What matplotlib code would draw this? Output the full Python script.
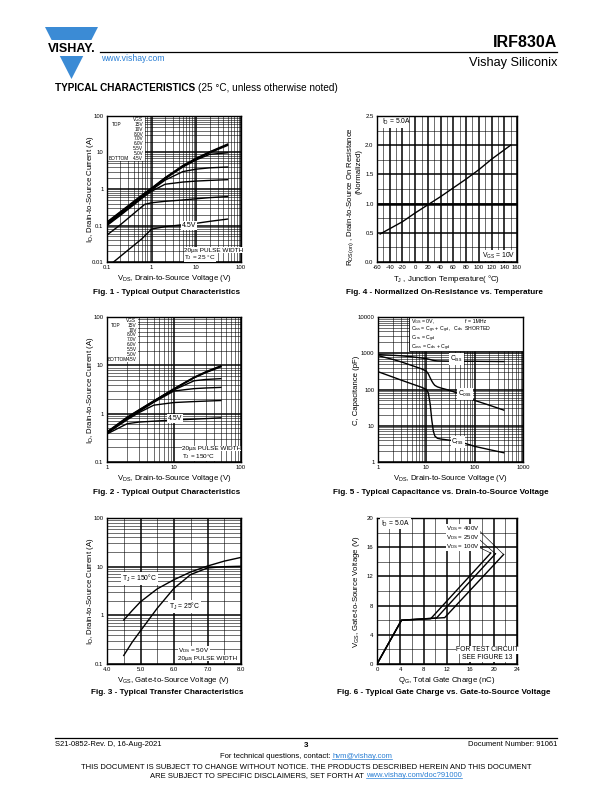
import numpy as np
import matplotlib
matplotlib.use('Agg')
import matplotlib.pyplot as plt
from matplotlib.ticker import FixedLocator, NullFormatter
from matplotlib.patches import Polygon, Rectangle

plt.rcParams['font.family'] = ['Liberation Sans', 'DejaVu Sans']
plt.rcParams['mathtext.fontset'] = 'custom'
plt.rcParams['mathtext.rm'] = 'Liberation Sans'
plt.rcParams['mathtext.it'] = 'Liberation Sans:italic'
plt.rcParams['mathtext.default'] = 'regular'

# ---------------- data ----------------
# Fig 1 - output characteristics, Tj = 25 C
vds1 = [0.1, 0.2, 0.5, 0.7, 1, 2, 5, 10, 20, 50]
id1_15v = [0.125, 0.24, 0.57, 0.78, 1.07, 2.05, 4.4, 7.0, 10.5, 17.0]
id1_10v = [0.12, 0.23, 0.55, 0.76, 1.04, 2.0, 4.3, 6.8, 10.2, 16.3]
id1_8v = [0.115, 0.22, 0.53, 0.74, 1.01, 1.95, 4.2, 6.6, 9.8, 15.6]
id1_7v = [0.11, 0.21, 0.51, 0.71, 0.98, 1.9, 4.0, 6.3, 8.9, 9.8]
id1_6v = [0.105, 0.2, 0.49, 0.68, 0.94, 1.75, 3.0, 3.5, 3.8, 4.0]
id1_55v = [0.1, 0.19, 0.46, 0.64, 0.87, 1.35, 1.55, 1.65, 1.72, 1.8]
id1_5v = [0.055, 0.105, 0.27, 0.38, 0.42, 0.46, 0.5, 0.54, 0.58, 0.62]
vds1_45 = [0.14, 0.3, 0.6, 1, 2, 5, 10, 20, 50]
id1_45v = [0.01, 0.0215, 0.043, 0.08, 0.093, 0.105, 0.115, 0.13, 0.15]

# Fig 2 - output characteristics, Tj = 150 C
vds2 = [1, 2, 3, 5, 10, 20, 30, 50]
id2_15v = [0.42, 0.85, 1.2, 1.85, 3.3, 5.7, 7.4, 9.8]
id2_10v = [0.41, 0.83, 1.18, 1.82, 3.25, 5.6, 7.2, 9.5]
id2_8v = [0.41, 0.81, 1.16, 1.8, 3.2, 5.5, 7.1, 9.3]
id2_7v = [0.4, 0.8, 1.14, 1.78, 3.1, 4.8, 5.1, 5.3]
id2_6v = [0.4, 0.78, 1.1, 1.72, 2.95, 3.3, 3.4, 3.5]
id2_55v = [0.39, 0.75, 1.05, 1.5, 1.7, 1.78, 1.82, 1.87]
id2_45v = [0.38, 0.62, 0.67, 0.7, 0.74, 0.77, 0.79, 0.82]

# Fig 3 - transfer characteristics
vgs3 = [4.5, 4.75, 5.0, 5.5, 6.0, 6.5, 7.0, 7.5, 8.0]
id3_150c = [0.8, 1.25, 1.9, 3.5, 5.4, 7.8, 10.3, 13.0, 15.5]
id3_25c = [0.15, 0.28, 0.48, 1.4, 3.6, 6.9, 9.4, 10.0, 10.2]

# Fig 4 - normalized on-resistance
tj4 = [-55, -40, -20, 0, 20, 40, 60, 80, 100, 120, 150]
rds4 = [0.48, 0.57, 0.69, 0.84, 0.98, 1.12, 1.27, 1.42, 1.58, 1.76, 2.0]

# Fig 5 - capacitance
vds5 = [1, 2, 3, 5, 8, 10, 11, 12, 13, 14, 15, 17, 20, 30, 50, 100, 200, 400]
ciss = [920, 880, 850, 800, 740, 710, 690, 670, 650, 635, 625, 615, 610, 605, 600, 600, 595, 590]
coss = [860, 680, 580, 460, 370, 320, 270, 210, 170, 145, 130, 118, 110, 95, 75, 50, 37, 27]
crss = [310, 222, 182, 143, 115, 100, 80, 40, 14, 7, 5.2, 4.5, 4.3, 4.0, 3.6, 2.7, 2.2, 1.8]

# Fig 6 - gate charge
qg_100 = [0, 4.2, 9.2, 19.5]
vg_100 = [0, 6.0, 6.2, 15.2]
qg_250 = [0, 4.2, 10.2, 20.3]
vg_250 = [0, 6.0, 6.3, 15.1]
qg_400 = [0, 4.2, 11.6, 21.7]
vg_400 = [0, 6.0, 6.35, 15.0]

W, H = 612, 792
fig = plt.figure(figsize=(6.12, 7.92), dpi=100)
page = fig.add_axes([0, 0, 1, 1])
page.set_xlim(0, W)
page.set_ylim(H, 0)
page.axis('off')

BLUE = '#3b8bd5'
LINK = '#2a7fd4'
CAP = 5.9
LAB = 5.6


def px_axes(l, t, r, b):
    return fig.add_axes([l / W, 1 - b / H, (r - l) / W, (b - t) / H])


def log_axes(ax, xdec, ydec, xlab, ylab):
    ax.set_xscale('log')
    ax.set_yscale('log')
    ax.set_xlim(xdec[0], xdec[-1])
    ax.set_ylim(ydec[0], ydec[-1])
    ax.set_xticks(xdec, labels=xlab)
    ax.set_yticks(ydec, labels=ylab)
    ax.xaxis.set_minor_locator(FixedLocator([d * k for d in xdec[:-1] for k in range(2, 10)]))
    ax.yaxis.set_minor_locator(FixedLocator([d * k for d in ydec[:-1] for k in range(2, 10)]))
    ax.xaxis.set_minor_formatter(NullFormatter())
    ax.yaxis.set_minor_formatter(NullFormatter())


def finish(ax):
    ax.grid(True, which='major', color='k', lw=1.1)
    ax.grid(True, which='minor', color='k', lw=0.4)
    ax.tick_params(which='both', length=0, labelsize=4.3, pad=2.5)
    for s in ax.spines.values():
        s.set_linewidth(1.0)


def ptext(x, y, s, **kw):
    return page.text(x, y, s, **kw)


def legend_block(ax, xr, ytop, step, xl, size=3.4):
    # VGS list, right aligned, with TOP / BOTTOM markers on the left
    ax.add_patch(Rectangle((0, ytop - 8.6 * step), xr + 0.01, 1 - ytop + 8.6 * step,
                           transform=ax.transAxes, facecolor='white', edgecolor='none',
                           zorder=2.5))
    for i, s in enumerate(leg):
        ax.text(xr, ytop - i * step, s, transform=ax.transAxes, ha='right',
                va='center', fontsize=size, zorder=4)
    ax.text(xl + 0.025, ytop - step, 'TOP', transform=ax.transAxes, va='center',
            fontsize=size, zorder=4)
    ax.text(xl, ytop - 8 * step, 'BOTTOM', transform=ax.transAxes, va='center',
            fontsize=size, zorder=4)


WB = dict(facecolor='white', edgecolor='none', pad=0.6)
WB2 = dict(facecolor='white', edgecolor='none', pad=0.2)
leg = ['VGS', '15V', '10V', '8.0V', '7.0V', '6.0V', '5.5V', '5.0V', '4.5V']

# ---------------- Fig 1 ----------------
ax1 = px_axes(107, 116, 241, 262)
log_axes(ax1, [0.1, 1, 10, 100], [0.01, 0.1, 1, 10, 100],
         ['0.1', '1', '10', '100'], ['0.01', '0.1', '1', '10', '100'])
for y in [id1_15v, id1_10v, id1_8v, id1_7v, id1_6v, id1_55v, id1_5v]:
    ax1.plot(vds1, y, color='k', lw=1.0)
ax1.plot(vds1_45, id1_45v, color='k', lw=1.0)
finish(ax1)
legend_block(ax1, 0.27, 0.977, 0.0335, 0.01)
ax1.text(6.9, 0.102, '4.5V', ha='center', va='center', fontsize=5.0, bbox=WB, zorder=4)
ax1.text(0.575, 0.082, '20µs PULSE WIDTH', transform=ax1.transAxes, va='center',
         fontsize=4.6, bbox=WB2, zorder=4)
ax1.text(0.575, 0.03, 'T$_J$ = 25 °C', transform=ax1.transAxes, va='center',
         fontsize=4.6, bbox=WB2, zorder=4)
ptext(174, 279, 'V$_{DS}$, Drain-to-Source Voltage (V)', ha='center', va='center', fontsize=LAB)
ptext(91, 189, 'I$_D$, Drain-to-Source Current (A)', ha='center', va='center',
      rotation=90, fontsize=LAB)
ptext(167, 293, 'Fig. 1 - Typical Output Characteristics', ha='center', va='center',
      fontsize=CAP, fontweight='bold')

# ---------------- Fig 2 ----------------
ax2 = px_axes(107, 317, 241, 462)
log_axes(ax2, [1, 10, 100], [0.1, 1, 10, 100], ['1', '10', '100'], ['0.1', '1', '10', '100'])
for y in [id2_15v, id2_10v, id2_8v, id2_7v, id2_6v, id2_55v, id2_45v]:
    ax2.plot(vds2, y, color='k', lw=1.0)
finish(ax2)
legend_block(ax2, 0.22, 0.977, 0.0335, 0.005)
ax2.text(0.51, 0.30, '4.5V', transform=ax2.transAxes, ha='center', va='center',
         fontsize=5.0, bbox=WB, zorder=4)
ax2.text(0.56, 0.092, '20µs PULSE WIDTH', transform=ax2.transAxes, va='center',
         fontsize=4.6, bbox=WB2, zorder=4)
ax2.text(0.56, 0.04, 'T$_J$ = 150°C', transform=ax2.transAxes, va='center',
         fontsize=4.6, bbox=WB2, zorder=4)
ptext(174, 479, 'V$_{DS}$, Drain-to-Source Voltage (V)', ha='center', va='center', fontsize=LAB)
ptext(91, 390, 'I$_D$, Drain-to-Source Current (A)', ha='center', va='center',
      rotation=90, fontsize=LAB)
ptext(167, 493, 'Fig. 2 - Typical Output Characteristics', ha='center', va='center',
      fontsize=CAP, fontweight='bold')

# ---------------- Fig 3 ----------------
ax3 = px_axes(107, 518, 241, 664)
ax3.set_yscale('log')
ax3.set_xlim(4.0, 8.0)
ax3.set_ylim(0.1, 100)
ax3.set_xticks([4.0, 5.0, 6.0, 7.0, 8.0], labels=['4.0', '5.0', '6.0', '7.0', '8.0'])
ax3.xaxis.set_minor_locator(FixedLocator([4.5, 5.5, 6.5, 7.5]))
ax3.set_yticks([0.1, 1, 10, 100], labels=['0.1', '1', '10', '100'])
ax3.yaxis.set_minor_locator(FixedLocator([d * k for d in [0.1, 1, 10] for k in range(2, 10)]))
ax3.yaxis.set_minor_formatter(NullFormatter())
ax3.plot(vgs3, id3_150c, color='k', lw=1.0)
ax3.plot(vgs3, id3_25c, color='k', lw=1.0)
finish(ax3)
ax3.text(0.11, 0.585, 'T$_J$ = 150°C', transform=ax3.transAxes, va='center',
         fontsize=4.9, bbox=WB, zorder=4)
ax3.text(0.46, 0.395, 'T$_J$ = 25°C', transform=ax3.transAxes, va='center',
         fontsize=4.9, bbox=WB, zorder=4)
ax3.text(0.53, 0.092, 'V$_{DS}$ = 50V', transform=ax3.transAxes, va='center',
         fontsize=4.6, bbox=WB2, zorder=4)
ax3.text(0.53, 0.04, '20µs PULSE WIDTH', transform=ax3.transAxes, va='center',
         fontsize=4.6, bbox=WB2, zorder=4)
ptext(174, 680, 'V$_{GS}$, Gate-to-Source Voltage (V)', ha='center', va='center', fontsize=LAB)
ptext(91, 591, 'I$_D$, Drain-to-Source Current (A)', ha='center', va='center',
      rotation=90, fontsize=LAB)
ptext(167, 693, 'Fig. 3 - Typical Transfer Characteristics', ha='center', va='center',
      fontsize=CAP, fontweight='bold')

# ---------------- Fig 4 ----------------
ax4 = px_axes(377, 116, 517, 262)
ax4.set_xlim(-60, 160)
ax4.set_ylim(0.0, 2.5)
ax4.set_xticks(list(range(-60, 161, 20)), labels=[str(v) for v in range(-60, 161, 20)])
ax4.xaxis.set_minor_locator(FixedLocator(list(range(-50, 160, 20))))
ax4.set_yticks([0.0, 0.5, 1.0, 1.5, 2.0, 2.5], labels=['0.0', '0.5', '1.0', '1.5', '2.0', '2.5'])
ax4.yaxis.set_minor_locator(FixedLocator([0.25, 0.75, 1.25, 1.75, 2.25]))
ax4.plot(tj4, rds4, color='k', lw=1.0)
finish(ax4)
ax4.axhline(1.0, color='k', lw=1.8, zorder=1.6)
ax4.add_patch(Rectangle((0, 0.915), 0.22, 0.085, transform=ax4.transAxes,
                        facecolor='white', edgecolor='none', zorder=2.5))
ax4.text(0.035, 0.962, 'I$_D$ = 5.0A', transform=ax4.transAxes, va='center',
         fontsize=4.9, zorder=4)
ax4.text(0.985, 0.045, 'V$_{GS}$ = 10V', transform=ax4.transAxes, ha='right', va='center',
         fontsize=4.9, bbox=WB, zorder=4)
ptext(447, 279, 'T$_J$ , Junction Temperature( °C)', ha='center', va='center', fontsize=LAB)
ptext(351, 197, 'R$_{DS(on)}$ , Drain-to-Source On Resistance', ha='center', va='center',
      rotation=90, fontsize=LAB)
ptext(359, 172, '(Normalized)', ha='center', va='center', rotation=90, fontsize=LAB)
ptext(445, 293, 'Fig. 4 - Normalized On-Resistance vs. Temperature', ha='center',
      va='center', fontsize=CAP, fontweight='bold')

# ---------------- Fig 5 ----------------
ax5 = px_axes(378, 317, 523, 462)
log_axes(ax5, [1, 10, 100, 1000], [1, 10, 100, 1000, 10000],
         ['1', '10', '100', '1000'], ['1', '10', '100', '1000', '10000'])
ax5.plot(vds5, ciss, color='k', lw=1.0)
ax5.plot(vds5, coss, color='k', lw=1.0)
ax5.plot(vds5, crss, color='k', lw=1.0)
finish(ax5)
ax5.add_patch(Rectangle((0.215, 0.765), 0.785, 0.235, transform=ax5.transAxes,
                        facecolor='white', edgecolor='k', lw=0.6, zorder=2.5))
box5 = ['V$_{GS}$ = 0V,',
        'C$_{iss}$ = C$_{gs}$ + C$_{gd}$ ,  C$_{ds}$  SHORTED',
        'C$_{rss}$ = C$_{gd}$',
        'C$_{oss}$ = C$_{ds}$ + C$_{gd}$']
for i, s in enumerate(box5):
    ax5.text(0.225, 0.968 - i * 0.06, s, transform=ax5.transAxes, va='center',
             fontsize=3.8, zorder=4)
ax5.text(0.60, 0.968, 'f = 1MHz', transform=ax5.transAxes, va='center', fontsize=3.8, zorder=4)
ax5.text(42, 700, 'C$_{iss}$', ha='center', va='center', fontsize=4.9, bbox=WB, zorder=4)
ax5.text(62, 76, 'C$_{oss}$', ha='center', va='center', fontsize=4.9, bbox=WB, zorder=4)
ax5.text(45, 3.55, 'C$_{rss}$', ha='center', va='center', fontsize=4.9, bbox=WB, zorder=4)
ptext(450, 479, 'V$_{DS}$, Drain-to-Source Voltage (V)', ha='center', va='center', fontsize=LAB)
ptext(356, 390, 'C, Capacitance (pF)', ha='center', va='center', rotation=90, fontsize=LAB)
ptext(441, 493, 'Fig. 5 - Typical Capacitance vs. Drain-to-Source Voltage', ha='center',
      va='center', fontsize=CAP, fontweight='bold')

# ---------------- Fig 6 ----------------
ax6 = px_axes(377, 518, 517, 664)
ax6.set_xlim(0, 24)
ax6.set_ylim(0, 20)
ax6.set_xticks(list(range(0, 25, 4)), labels=[str(v) for v in range(0, 25, 4)])
ax6.xaxis.set_minor_locator(FixedLocator(list(range(2, 24, 4))))
ax6.set_yticks(list(range(0, 21, 4)), labels=[str(v) for v in range(0, 21, 4)])
ax6.yaxis.set_minor_locator(FixedLocator(list(range(2, 20, 4))))
ax6.plot(qg_100, vg_100, color='k', lw=1.0)
ax6.plot(qg_250, vg_250, color='k', lw=1.0)
ax6.plot(qg_400, vg_400, color='k', lw=1.0)
finish(ax6)
ax6.text(0.03, 0.962, 'I$_D$ = 5.0A', transform=ax6.transAxes, va='center',
         fontsize=4.9, bbox=WB, zorder=4)
labels6 = [('V$_{DS}$ = 400V', 18.5, qg_400, vg_400),
           ('V$_{DS}$ = 250V', 17.3, qg_250, vg_250),
           ('V$_{DS}$ = 100V', 16.1, qg_100, vg_100)]
for s, yv, q, v in labels6:
    ax6.text(11.8, yv, s, va='center', fontsize=4.4, bbox=WB2, zorder=4)
    ax6.plot([17.2, q[-1]], [yv, v[-1]], color='k', lw=0.45, zorder=3)
ax6.text(0.79, 0.097, 'FOR TEST CIRCUIT', transform=ax6.transAxes, ha='center',
         va='center', fontsize=4.9, bbox=WB, zorder=4)
ax6.text(0.79, 0.045, 'SEE FIGURE 13', transform=ax6.transAxes, ha='center',
         va='center', fontsize=4.9, bbox=WB, zorder=4)
ptext(447, 680, 'Q$_G$, Total Gate Charge (nC)', ha='center', va='center', fontsize=LAB)
ptext(357, 591, 'V$_{GS}$, Gate-to-Source Voltage (V)', ha='center', va='center',
      rotation=90, fontsize=LAB)
ptext(444, 693, 'Fig. 6 - Typical Gate Charge vs. Gate-to-Source Voltage', ha='center',
      va='center', fontsize=CAP, fontweight='bold')

# ---------------- header ----------------
k = 26.5 / 52.0
page.add_patch(Polygon([(45, 27), (98, 27), (98 - 13 * k, 40), (45 + 13 * k, 40)],
                       closed=True, facecolor=BLUE, edgecolor='none'))
page.add_patch(Polygon([(45 + 29 * k, 56), (98 - 29 * k, 56), (71.5, 79)],
                       closed=True, facecolor=BLUE, edgecolor='none'))
ptext(71.5, 48.5, 'VISHAY.', ha='center', va='center', fontsize=9, fontweight='bold')
page.plot([100, 557], [52, 52], color='k', lw=0.9)
ptext(557, 47, 'IRF830A', ha='right', va='baseline', fontsize=11.5, fontweight='bold')
ptext(557, 66, 'Vishay Siliconix', ha='right', va='baseline', fontsize=9.2)
ptext(101, 61, 'www.vishay.com', ha='left', va='baseline', fontsize=6.2, color=LINK)

renderer = fig.canvas.get_renderer()
t1 = ptext(55, 91, 'TYPICAL CHARACTERISTICS', ha='left', va='baseline', fontsize=7.2,
           fontweight='bold')
w1 = t1.get_window_extent(renderer).width
ptext(55 + w1 + 3, 91, '(25 °C, unless otherwise noted)', ha='left', va='baseline',
      fontsize=7.2)

# ---------------- footer ----------------
page.plot([55, 557], [738, 738], color='k', lw=0.9)
ptext(55, 746, 'S21-0852-Rev. D, 16-Aug-2021', ha='left', va='baseline', fontsize=5.5)
ptext(306, 747, '3', ha='center', va='baseline', fontsize=5.8, fontweight='bold')
ptext(557, 746, 'Document Number: 91061', ha='right', va='baseline', fontsize=5.5)


def link_line(xc, y, black, blue, size):
    a = ptext(0, y, black, ha='left', va='baseline', fontsize=size)
    b = ptext(0, y, blue, ha='left', va='baseline', fontsize=size, color=LINK)
    wa = a.get_window_extent(renderer).width
    wb = b.get_window_extent(renderer).width
    x0 = xc - (wa + 2.2 + wb) / 2
    a.set_x(x0)
    b.set_x(x0 + wa + 2.2)
    page.plot([x0 + wa + 2.2, x0 + wa + 2.2 + wb], [y + 1.3, y + 1.3], color=LINK, lw=0.5)


link_line(306, 758, 'For technical questions, contact:', 'hvm@vishay.com', 5.5)
ptext(306, 769, 'THIS DOCUMENT IS SUBJECT TO CHANGE WITHOUT NOTICE. THE PRODUCTS DESCRIBED '
      'HEREIN AND THIS DOCUMENT', ha='center', va='baseline', fontsize=5.5)
link_line(306, 777, 'ARE SUBJECT TO SPECIFIC DISCLAIMERS, SET FORTH AT', 'www.vishay.com/doc?91000', 5.5)

fig.savefig('out.png', dpi=100)
